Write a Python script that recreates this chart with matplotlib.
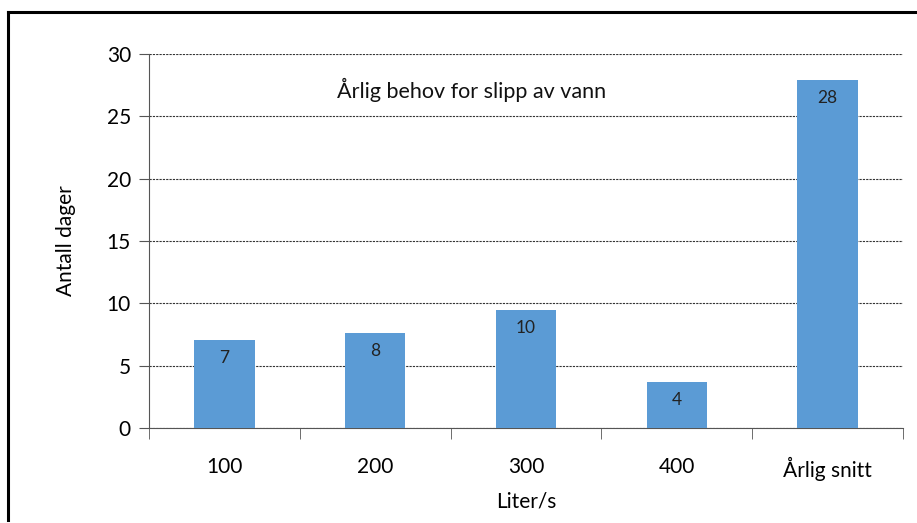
import numpy as np
import matplotlib.pyplot as plt
from matplotlib.lines import Line2D

# data
categories = ['100', '200', '300', '400', 'Årlig snitt']
days = [7.05, 7.6, 9.45, 3.7, 27.9]
day_labels = ['7', '8', '10', '4', '28']

plt.rcParams['font.family'] = ['Lato', 'DejaVu Sans']

fig = plt.figure(figsize=(9.17, 5.23), dpi=100)
ax = fig.add_axes([0.1625, 0.1816, 0.8222, 0.7151])

x = np.arange(len(categories))
bars = ax.bar(x, days, width=0.40, color='#5B9BD5', zorder=3)

# value labels just inside the top of each bar
for b, lab in zip(bars, day_labels):
    ax.annotate(lab, (b.get_x() + b.get_width() / 2, b.get_height()),
                xytext=(0, -7), textcoords='offset points',
                ha='center', va='top', fontsize=12.5, color='#222222', zorder=4)

ax.set_ylim(0, 30)
ax.set_yticks(range(0, 31, 5))
ax.set_xlim(-0.5, len(categories) - 0.5)
ax.set_xticks(x)
ax.set_xticklabels(categories)
ax.set_xticks(np.arange(-0.5, len(categories)), minor=True)
ax.tick_params(axis='x', which='major', length=0, pad=21, labelsize=15)
ax.tick_params(axis='x', which='minor', length=8, color='#555555', direction='out')
ax.tick_params(axis='y', length=7, color='#555555', labelsize=15, pad=6)

ax.yaxis.grid(True, linestyle=(0, (2, 1)), color='#333333', linewidth=0.8, zorder=0)
for s in ['top', 'right']:
    ax.spines[s].set_visible(False)
for s in ['left', 'bottom']:
    ax.spines[s].set_color('#555555')

ax.set_ylabel('Antall dager', fontsize=15, labelpad=22)
ax.set_xlabel('Liter/s', fontsize=15, labelpad=7)

ax.text(0.428, 0.905, 'Årlig behov for slipp av vann', transform=ax.transAxes,
        ha='center', va='center', fontsize=15.5, color='#111111')

# outer chart frame (only top and left edges visible in the crop)
fig.add_artist(Line2D([8 / 917, 1], [1 - 12 / 523, 1 - 12 / 523], color='black', linewidth=2.2))
fig.add_artist(Line2D([8 / 917, 8 / 917], [1 - 12 / 523, 3 / 523], color='black', linewidth=2.2))

fig.savefig('out.png', dpi=100)
